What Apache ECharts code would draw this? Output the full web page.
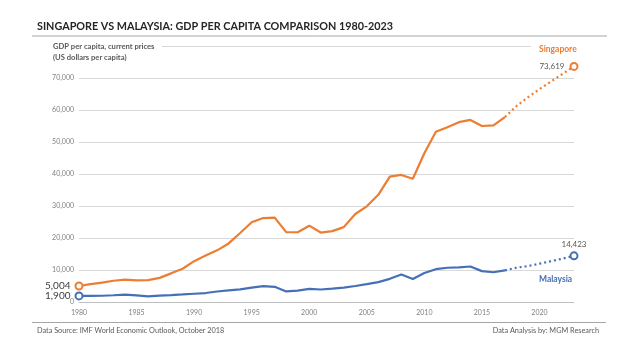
<!DOCTYPE html>
<html><head><meta charset="utf-8">
<script src="https://cdn.jsdelivr.net/npm/echarts@6/dist/echarts.min.js"></script>
<style>html,body{margin:0;padding:0;background:#fff}#c{width:638px;height:359px}</style>
</head><body><div id="c"></div>
<script>
const years = ['1980','1981','1982','1983','1984','1985','1986','1987','1988','1989',
  '1990','1991','1992','1993','1994','1995','1996','1997','1998','1999',
  '2000','2001','2002','2003','2004','2005','2006','2007','2008','2009',
  '2010','2011','2012','2013','2014','2015','2016','2017','2018','2019',
  '2020','2021','2022','2023'];
// 1980-2017 actual
const sgActual = [5004,5596,6078,6633,6988,6754,6822,7539,8952,10394,
  12763,14505,16136,18302,21553,24915,26233,26376,21829,21796,
  23852,21700,22160,23400,27500,29900,33500,39200,39700,38500,
  46500,53200,54600,56200,56900,55000,55200,57800];
// 2017-2023 projection
const sgForecast = [57800,61230,63987,66503,68907,71254,73619];
const myActual = [1900,1887,1956,2110,2323,2095,1769,1977,2156,2366,
  2585,2804,3276,3637,3959,4516,4950,4750,3300,3565,
  4102,3914,4172,4491,5009,5587,6209,7243,8600,7200,
  9041,10250,10700,10800,11100,9649,9300,9900];
const myForecast = [9900,10704,11239,11971,12755,13557,14423];
const yTicks = {min:0, max:80000, interval:10000};

const ORANGE = '#ED7D31', BLUE = '#4570B8';
const FONT = 'Lato';

function pad(arr, start) {
  const out = [];
  for (let i = 0; i < years.length; i++) {
    const j = i - start;
    out.push(j >= 0 && j < arr.length ? arr[j] : '-');
  }
  return out;
}
function endPoint(v, color, pos, size, fcolor, dist) {
  return {value: v, symbol: 'emptyCircle', symbolSize: 7,
    itemStyle: {color: color, borderColor: color, borderWidth: 2},
    label: {show: true, position: pos, distance: dist, fontFamily: FONT, fontSize: size,
      color: fcolor, formatter: (p) => p.value.toLocaleString('en-US')}};
}
const sgA = pad(sgActual, 0), sgF = pad(sgForecast, 37);
const myA = pad(myActual, 0), myF = pad(myForecast, 37);
sgA[0] = endPoint(sgActual[0], ORANGE, 'left', 10, '#404040', 4);
myA[0] = endPoint(myActual[0], BLUE, 'left', 10, '#404040', 4);
sgF[43] = endPoint(sgForecast[6], ORANGE, 'left', 8, '#595959', 5);
myF[43] = endPoint(myForecast[6], BLUE, 'top', 8, '#595959', 3);

const chart = echarts.init(document.getElementById('c'), null, {renderer: 'canvas'});
chart.setOption({
  animation: false,
  backgroundColor: '#fff',
  grid: {left: 79, right: 64, top: 46, bottom: 57, containLabel: false},
  xAxis: {type: 'category', data: years, boundaryGap: false,
    axisLine: {lineStyle: {color: '#BFBFBF', width: 1}},
    axisTick: {show: false},
    axisLabel: {interval: 4, color: '#808080', fontFamily: FONT, fontSize: 7, margin: 7},
    splitLine: {show: false}},
  yAxis: {type: 'value', min: yTicks.min, max: yTicks.max, interval: yTicks.interval,
    axisLine: {show: false}, axisTick: {show: false},
    axisLabel: {color: '#808080', fontFamily: FONT, fontSize: 7, margin: 5, showMaxLabel: false,
      formatter: (v) => v.toLocaleString('en-US')},
    splitLine: {lineStyle: {color: '#D9D9D9', width: 1}}},
  series: [
    {type: 'line', data: sgA, symbol: 'none', lineStyle: {color: ORANGE, width: 2.2}, itemStyle: {color: ORANGE}, z: 3},
    {type: 'line', data: sgF, symbol: 'none', lineStyle: {color: ORANGE, width: 2.2, type: [2, 3]}, itemStyle: {color: ORANGE}, z: 3},
    {type: 'line', data: myA, symbol: 'none', lineStyle: {color: BLUE, width: 2.2}, itemStyle: {color: BLUE}, z: 3},
    {type: 'line', data: myF, symbol: 'none', lineStyle: {color: BLUE, width: 2.2, type: [2, 3]}, itemStyle: {color: BLUE}, z: 3}
  ],
  graphic: [
    {type: 'text', left: 37, top: 21, z: 100, style: {text: 'SINGAPORE VS MALAYSIA: GDP PER CAPITA COMPARISON 1980-2023',
      fontFamily: FONT, fontWeight: 'bold', fontSize: 10.8, fill: '#262626'}},
    {type: 'line', z: 100, shape: {x1: 32, y1: 36, x2: 607, y2: 36}, style: {stroke: '#A6A6A6', lineWidth: 1}},
    {type: 'rect', z: 100, shape: {x: 45, y: 38, width: 117, height: 26}, style: {fill: '#fff'}},
    {type: 'text', left: 53, top: 41, z: 101, style: {text: 'GDP per capita, current prices\n(US dollars per capita)',
      fontFamily: FONT, fontWeight: 'bold', fontSize: 7.6, lineHeight: 11, fill: '#595959'}},
    {type: 'rect', z: 100, shape: {x: 531, y: 40, width: 60, height: 17}, style: {fill: '#fff'}},
    {type: 'text', left: 539, top: 45, z: 101, style: {text: 'Singapore', fontFamily: FONT, fontWeight: 'bold', fontSize: 8.5, fill: ORANGE}},
    {type: 'text', left: 539, top: 275, z: 101, style: {text: 'Malaysia', fontFamily: FONT, fontWeight: 'bold', fontSize: 8.5, fill: BLUE}},
    {type: 'line', z: 100, shape: {x1: 32, y1: 322.5, x2: 606, y2: 322.5}, style: {stroke: '#A6A6A6', lineWidth: 1}},
    {type: 'text', left: 37, top: 327, z: 100, style: {text: 'Data Source: IMF World Economic Outlook, October 2018',
      fontFamily: FONT, fontSize: 7.3, fill: '#595959'}},
    {type: 'text', right: 39, top: 327, z: 100, style: {text: 'Data Analysis by: MGM Research',
      fontFamily: FONT, fontSize: 7.3, fill: '#595959'}}
  ]
});
</script></body></html>
